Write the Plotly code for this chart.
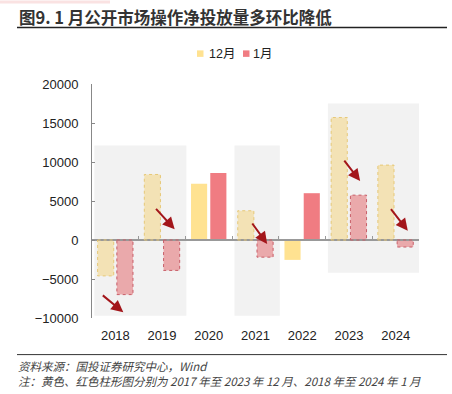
import plotly.graph_objects as go

# ---------------- data ----------------
years = ['2018', '2019', '2020', '2021', '2022', '2023', '2024']
dec_vals = [-4600, 8400, 7200, 3750, -2550, 15700, 9600]   # 12月
jan_vals = [-7000, -3900, 8600, -2200, 6000, 5750, -900]   # 1月
faded = [True, True, False, True, False, True, True]
series_names = ['12月', '1月']
y_ticks = [-10000, -5000, 0, 5000, 10000, 15000, 20000]
# highlighted (grey) groups: (first index, last index, y top, y bottom)
shade_groups = [(0, 1, 12100, -9700), (3, 3, 12100, -9700), (5, 6, 17500, -4200)]

# ---------------- style ----------------
W_PX, H_PX = 452, 394
L, R, T, B = 92, 33, 83.7, 75.7
PW = W_PX - L - R
PH = H_PX - T - B
def px(xpix):
    return (xpix - L) / PW
def py(ypix):
    return (H_PX - B - ypix) / PH

dec_solid, dec_fade, dec_border = '#FFE291', '#F3E2B5', '#E6C877'
jan_solid, jan_fade, jan_border = '#F07C82', '#EAA9AB', '#C85E68'
BW = 0.345
OFF = [-0.38, 0.032]
FONT = 'Liberation Sans, Arial, Noto Sans CJK SC, sans-serif'
CJK = 'Noto Sans CJK SC, sans-serif'

idx = list(range(len(years)))
fig = go.Figure()
for k, (vals, solid, fade) in enumerate([(dec_vals, dec_solid, dec_fade), (jan_vals, jan_solid, jan_fade)]):
    fig.add_trace(go.Bar(
        x=idx, y=vals, name=series_names[k], width=BW, offset=OFF[k],
        marker=dict(color=[fade if f else solid for f in faded], line=dict(width=0)),
        showlegend=False))

# dummy trace for the zero axis (x2)
fig.add_trace(go.Scatter(x=[None], y=[None], xaxis='x2', showlegend=False, hoverinfo='skip'))

shapes = []
# grey highlight areas
for a, b, top, bot in shade_groups:
    shapes.append(dict(type='rect', xref='x', yref='y', x0=a - 0.45, x1=b + 0.52,
                       y0=bot, y1=top, fillcolor='#F2F2F2', line=dict(width=0), layer='below'))
# dotted outlines on faded bars
for i, f in enumerate(faded):
    if not f:
        continue
    for k, (vals, col) in enumerate([(dec_vals, dec_border), (jan_vals, jan_border)]):
        shapes.append(dict(type='rect', xref='x', yref='y', x0=i + OFF[k], x1=i + OFF[k] + BW,
                           y0=0, y1=vals[i], line=dict(color=col, width=1, dash='dot'),
                           fillcolor='rgba(0,0,0,0)', layer='above'))
# title underline & footer line
shapes.append(dict(type='line', xref='paper', yref='paper', x0=px(17), x1=px(447), y0=py(27), y1=py(27),
                   line=dict(color='#222', width=1.5)))
shapes.append(dict(type='line', xref='paper', yref='paper', x0=px(17), x1=px(447), y0=py(355), y1=py(355),
                   line=dict(color='#333', width=1)))
# faint pink header strip
shapes.append(dict(type='rect', xref='paper', yref='paper', x0=px(0), x1=px(110), y0=py(0), y1=py(3),
                   fillcolor='rgba(235,140,140,0.25)', line=dict(width=0)))
# manual legend swatches
for xs, col in [(197, dec_solid), (243, jan_solid)]:
    shapes.append(dict(type='rect', xref='paper', yref='paper', x0=px(xs), x1=px(xs + 6.5),
                       y0=py(56.5), y1=py(50), fillcolor=col, line=dict(width=0)))

annotations = []
annotations.append(dict(xref='paper', yref='paper', x=px(17), y=py(17), xanchor='left', yanchor='middle',
                        text='<b>图9. 1 月公开市场操作净投放量多环比降低</b>', showarrow=False,
                        font=dict(family=CJK, size=16.5, color='#333')))
for xt, name in [(206.5, series_names[0]), (251, series_names[1])]:
    annotations.append(dict(xref='paper', yref='paper', x=px(xt), y=py(53.5), xanchor='left', yanchor='middle',
                            text=name, showarrow=False, font=dict(family=FONT, size=12.5, color='#222')))
annotations.append(dict(xref='paper', yref='paper', x=px(16), y=py(356.5), xanchor='left', yanchor='top',
                        align='left',
                        text='<i>资料来源：国投证券研究中心，Wind</i><br>'
                             '<i>注：黄色、红色柱形图分别为 2017 年至 2023 年 12 月、2018 年至 2024 年 1 月</i>',
                        showarrow=False, font=dict(family=CJK, size=11.5, color='#444')))
# arrows (head position in data units, tail offset in px)
arrows = [(0.17, -9250, -22, -18), (1.27, 1370, -20, -22), (3.25, -510, -16, -22),
          (5.24, 7550, -17, -22), (6.26, 1190, -18, -23)]
for xa, ya, dx, dy in arrows:
    annotations.append(dict(xref='x', yref='y', x=xa, y=ya, ax=dx, ay=dy, text='', showarrow=True,
                            arrowhead=2, arrowsize=1.2, arrowwidth=2, arrowcolor='#A3161B'))

fig.update_layout(
    width=W_PX, height=H_PX, margin=dict(l=L, r=R, t=T, b=B, pad=0),
    paper_bgcolor='white', plot_bgcolor='white',
    barmode='overlay', shapes=shapes, annotations=annotations,
    font=dict(family=FONT, size=13, color='#222'),
    xaxis=dict(range=[-0.5, 6.5], tickvals=idx, ticktext=years, showline=False, ticks='',
               showgrid=False, zeroline=False, ticklabelstandoff=8, fixedrange=True),
    xaxis2=dict(range=[-0.5, 6.5], overlaying='x', anchor='free', position=1/3, side='bottom',
                showline=True, linecolor='#999', linewidth=1.5, ticks='inside', ticklen=3,
                tickcolor='#999', tickwidth=1, tickvals=[i - 0.5 for i in range(len(years) + 1)],
                showticklabels=False, showgrid=False, zeroline=False),
    yaxis=dict(range=[-10000, 20000], tickvals=y_ticks, tickformat='d', showline=True,
               linecolor='#888', linewidth=1, ticks='inside', ticklen=3, tickcolor='#888',
               showgrid=False, zeroline=False, ticklabelstandoff=10),
)
fig.write_html('out.html', config={'displayModeBar': False},
               post_script="document.body.style.margin='0';")
